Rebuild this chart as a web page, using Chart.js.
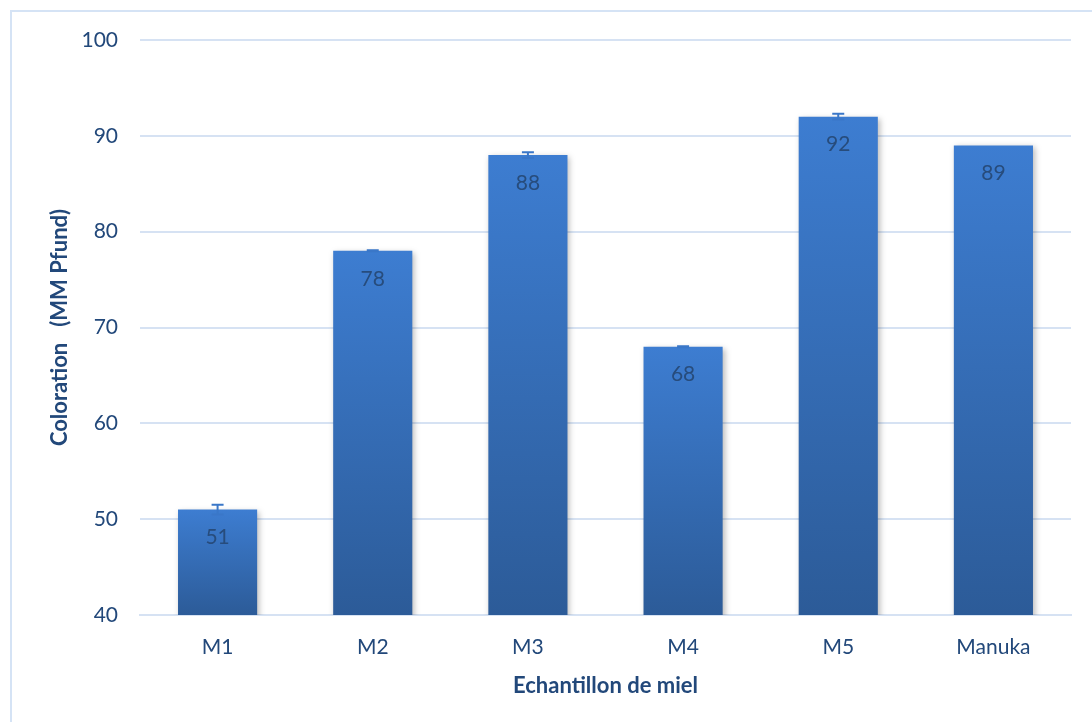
<!DOCTYPE html>
<html>
<head>
<meta charset="utf-8">
<script src="https://cdn.jsdelivr.net/npm/chart.js@4"></script>
<style>
  html, body { margin: 0; padding: 0; background: #ffffff; }
  #wrap { width: 1092px; height: 722px; position: relative; }
</style>
</head>
<body>
<div id="wrap"><canvas id="c" width="1092" height="722"></canvas></div>
<script>
// Honey samples and their colour (mm Pfund) with standard deviations
const categories = ['M1', 'M2', 'M3', 'M4', 'M5', 'Manuka'];
const colorValues = [51, 78, 88, 68, 92, 89];
const errorValues = [0.5, 0.05, 0.3, 0.05, 0.3, 0];
const yTicks = [40, 50, 60, 70, 80, 90, 100];

const FONT = 'Lato, "Open Sans", sans-serif';
const TEXT = '#22487a';
const GRID = '#d6e2f3';

// Frame lines around the chart
const framePlugin = {
  id: 'frame',
  beforeDraw(chart) {
    const ctx = chart.ctx;
    ctx.save();
    ctx.strokeStyle = '#d5e3f5';
    ctx.lineWidth = 2;
    ctx.beginPath();
    ctx.moveTo(11, 722);
    ctx.lineTo(11, 11);
    ctx.lineTo(1092, 11);
    ctx.stroke();
    ctx.restore();
  }
};

// Soft drop shadow under the bars
const shadowPlugin = {
  id: 'barShadow',
  beforeDatasetDraw(chart) {
    const ctx = chart.ctx;
    ctx.save();
    ctx.shadowColor = 'rgba(0,0,0,0.28)';
    ctx.shadowBlur = 6;
    ctx.shadowOffsetX = 2;
    ctx.shadowOffsetY = 2;
  },
  afterDatasetDraw(chart) {
    chart.ctx.restore();
  }
};

// Error bars and value labels drawn over the bars
const overlayPlugin = {
  id: 'overlay',
  afterDatasetsDraw(chart) {
    const ctx = chart.ctx;
    const y = chart.scales.y;
    const meta = chart.getDatasetMeta(0);
    ctx.save();
    meta.data.forEach((bar, i) => {
      const v = colorValues[i];
      const e = errorValues[i];
      if (e > 0) {
        const yHi = y.getPixelForValue(v + e);
        const yLo = y.getPixelForValue(v - e);
        ctx.strokeStyle = '#3a77c8';
        ctx.lineWidth = 2;
        ctx.beginPath();
        ctx.moveTo(bar.x, yHi);
        ctx.lineTo(bar.x, yLo);
        ctx.moveTo(bar.x - 6, yHi);
        ctx.lineTo(bar.x + 6, yHi);
        ctx.moveTo(bar.x - 6, yLo);
        ctx.lineTo(bar.x + 6, yLo);
        ctx.stroke();
      }
      ctx.fillStyle = '#274c7c';
      ctx.font = '21px ' + FONT;
      ctx.textAlign = 'center';
      ctx.textBaseline = 'middle';
      ctx.fillText(String(v), bar.x, y.getPixelForValue(v) + 28);
    });
    ctx.restore();
  }
};

new Chart(document.getElementById('c'), {
  type: 'bar',
  data: {
    labels: categories,
    datasets: [{
      data: colorValues,
      backgroundColor(context) {
        const chart = context.chart;
        const area = chart.chartArea;
        if (!area) return '#3673c2';
        const top = chart.scales.y.getPixelForValue(colorValues[context.dataIndex]);
        const g = chart.ctx.createLinearGradient(0, top, 0, area.bottom);
        g.addColorStop(0, '#3d7dd1');
        g.addColorStop(1, '#2c5b98');
        return g;
      },
      borderWidth: 0,
      categoryPercentage: 1,
      barPercentage: 0.51
    }]
  },
  options: {
    responsive: false,
    animation: false,
    events: [],
    layout: { padding: { left: 38, right: 21, top: 40, bottom: 0 } },
    plugins: {
      legend: { display: false },
      tooltip: { enabled: false }
    },
    scales: {
      x: {
        grid: { display: false, drawTicks: false },
        border: { display: true, color: GRID, width: 2 },
        ticks: { color: TEXT, font: { family: FONT, size: 21 }, padding: 20 },
        title: {
          display: true,
          text: 'Echantillon de miel',
          color: TEXT,
          font: { family: FONT, size: 22, weight: 'bold' },
          padding: { top: 10, bottom: 23 }
        },
        afterFit(s) { s.height = 107; }
      },
      y: {
        min: 40,
        max: 100,
        afterBuildTicks(s) { s.ticks = yTicks.map(v => ({ value: v })); },
        grid: { color: GRID, lineWidth: 2, drawTicks: false },
        border: { display: false },
        ticks: { color: TEXT, font: { family: FONT, size: 21 }, padding: 22 },
        title: {
          display: true,
          text: 'Coloration   (MM Pfund)',
          color: TEXT,
          font: { family: FONT, size: 22, weight: 'bold' },
          padding: { top: 9, bottom: 0 }
        },
        afterFit(s) { s.width = 102; }
      }
    }
  },
  plugins: [framePlugin, shadowPlugin, overlayPlugin]
});
</script>
</body>
</html>
